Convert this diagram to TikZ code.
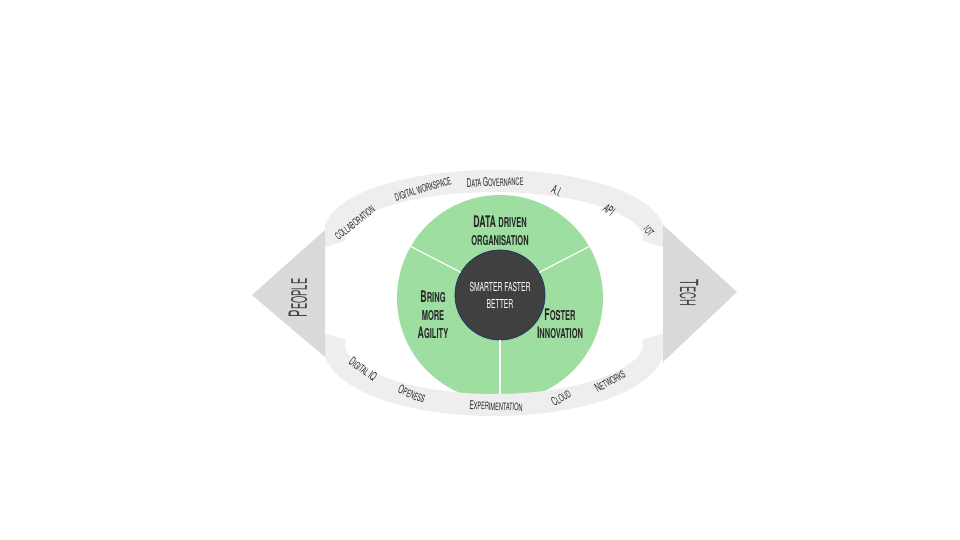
\documentclass[tikz,border=0pt]{standalone}
\usepackage{fontspec}
\setmainfont{TeX Gyre Heros}
\newfontfamily\eyefont[FakeStretch=0.55]{TeX Gyre Heros}
\newfontfamily\sidefont[FakeStretch=0.44]{TeX Gyre Heros}
\newcommand\lowcap[1]{\scalebox{0.85}{#1}}
\definecolor{bandgray}{RGB}{238,238,238}
\definecolor{arrowgray}{RGB}{217,217,217}
\definecolor{leafgreen}{RGB}{159,222,161}
\definecolor{coredark}{RGB}{64,64,64}
\definecolor{coreedge}{RGB}{31,56,100}
\definecolor{inkgray}{RGB}{38,38,38}
\definecolor{tipgray}{RGB}{64,64,64}
\begin{document}
\begin{tikzpicture}[x=1pt,y=-1pt,
  band/.style={draw=bandgray,line width=22pt},
  tip/.style={fill=arrowgray},
  tag/.style={font=\eyefont\fontsize{12}{13}\selectfont,text=inkgray,inner sep=0pt},
  leaf/.style={font=\eyefont\bfseries\fontsize{16}{18}\selectfont,text=black!85,align=center,inner sep=0pt},
  side/.style={font=\sidefont\fontsize{25}{25}\selectfont,text=tipgray,inner sep=0pt}]
  \useasboundingbox[fill=white] (0,0) rectangle (960,540);
  % iris and pupil
  \node[circle,fill=leafgreen,minimum size=206pt,inner sep=0pt] (disc) at (500,298) {};
  \node[circle,fill=coredark,draw=coreedge,line width=0.8pt,minimum size=90pt,inner sep=0pt] (core) at (500,295) {};
  \foreach \a in {30,150,270}
    \draw[white,line width=1.2pt] (core.\a) -- (disc.\a);
  % lids
  \begin{scope}
    \clip (325,0) rectangle (663,540);
    \draw[band] (494,236) ++(172:160 and 55) arc[start angle=172,end angle=368,x radius=160,y radius=55];
    \draw[band] (494,345) ++(-8:160 and 60) arc[start angle=-8,end angle=188,x radius=160,y radius=60];
  \end{scope}
  % corners
  \fill[tip] (252,295) -- (325,230) -- (325,357) -- cycle;
  \fill[tip] (663,225) -- (737,292) -- (663,362) -- cycle;
  \node[side,rotate=90] (people) at (298,298) {P\lowcap{EOPLE}};
  \node[side,rotate=-90] (tech) at (689,293) {T\lowcap{ECH}};
  % iris texts
  \node[leaf] (data) at (500,231) {DATA \lowcap{DRIVEN}\\\lowcap{ORGANISATION}};
  \node[leaf] (agility) at (433,315) {B\lowcap{RING}\\\lowcap{MORE}\\A\lowcap{GILITY}};
  \node[leaf] (innov) at (560,324) {F\lowcap{OSTER}\\I\lowcap{NNOVATION}};
  \node[leaf,text=white,font=\eyefont\fontsize{14.5}{17}\selectfont] (smart) at (500,295) {\lowcap{SMARTER FASTER}\\\lowcap{BETTER}};
  % upper lid
  \node[tag,rotate=38] (collab) at (355,223) {\lowcap{COLLABORATION}};
  \node[tag,rotate=17] (workspace) at (423,189) {\lowcap{DIGITAL WORKSPACE}};
  \node[tag,rotate=2] (gov) at (495,182) {D\lowcap{ATA} G\lowcap{OVERNANCE}};
  \node[tag,rotate=-25] (ai) at (557,191) {A.I.};
  \node[tag,rotate=-38] (api) at (609,210) {API};
  \node[tag,rotate=-50] (iot) at (649,231) {\lowcap{IOT}};
  % lower lid
  \node[tag,rotate=-36] (iq) at (363,369) {D\lowcap{IGITAL} IQ};
  \node[tag,rotate=-22] (open) at (412,394) {O\lowcap{PENESS}};
  \node[tag,rotate=-2] (exp) at (496,406) {E\lowcap{XPERIMENTATION}};
  \node[tag,rotate=30] (cloud) at (561,398) {C\lowcap{LOUD}};
  \node[tag,rotate=30] (net) at (610,381) {N\lowcap{ETWORKS}};
\end{tikzpicture}
\end{document}
